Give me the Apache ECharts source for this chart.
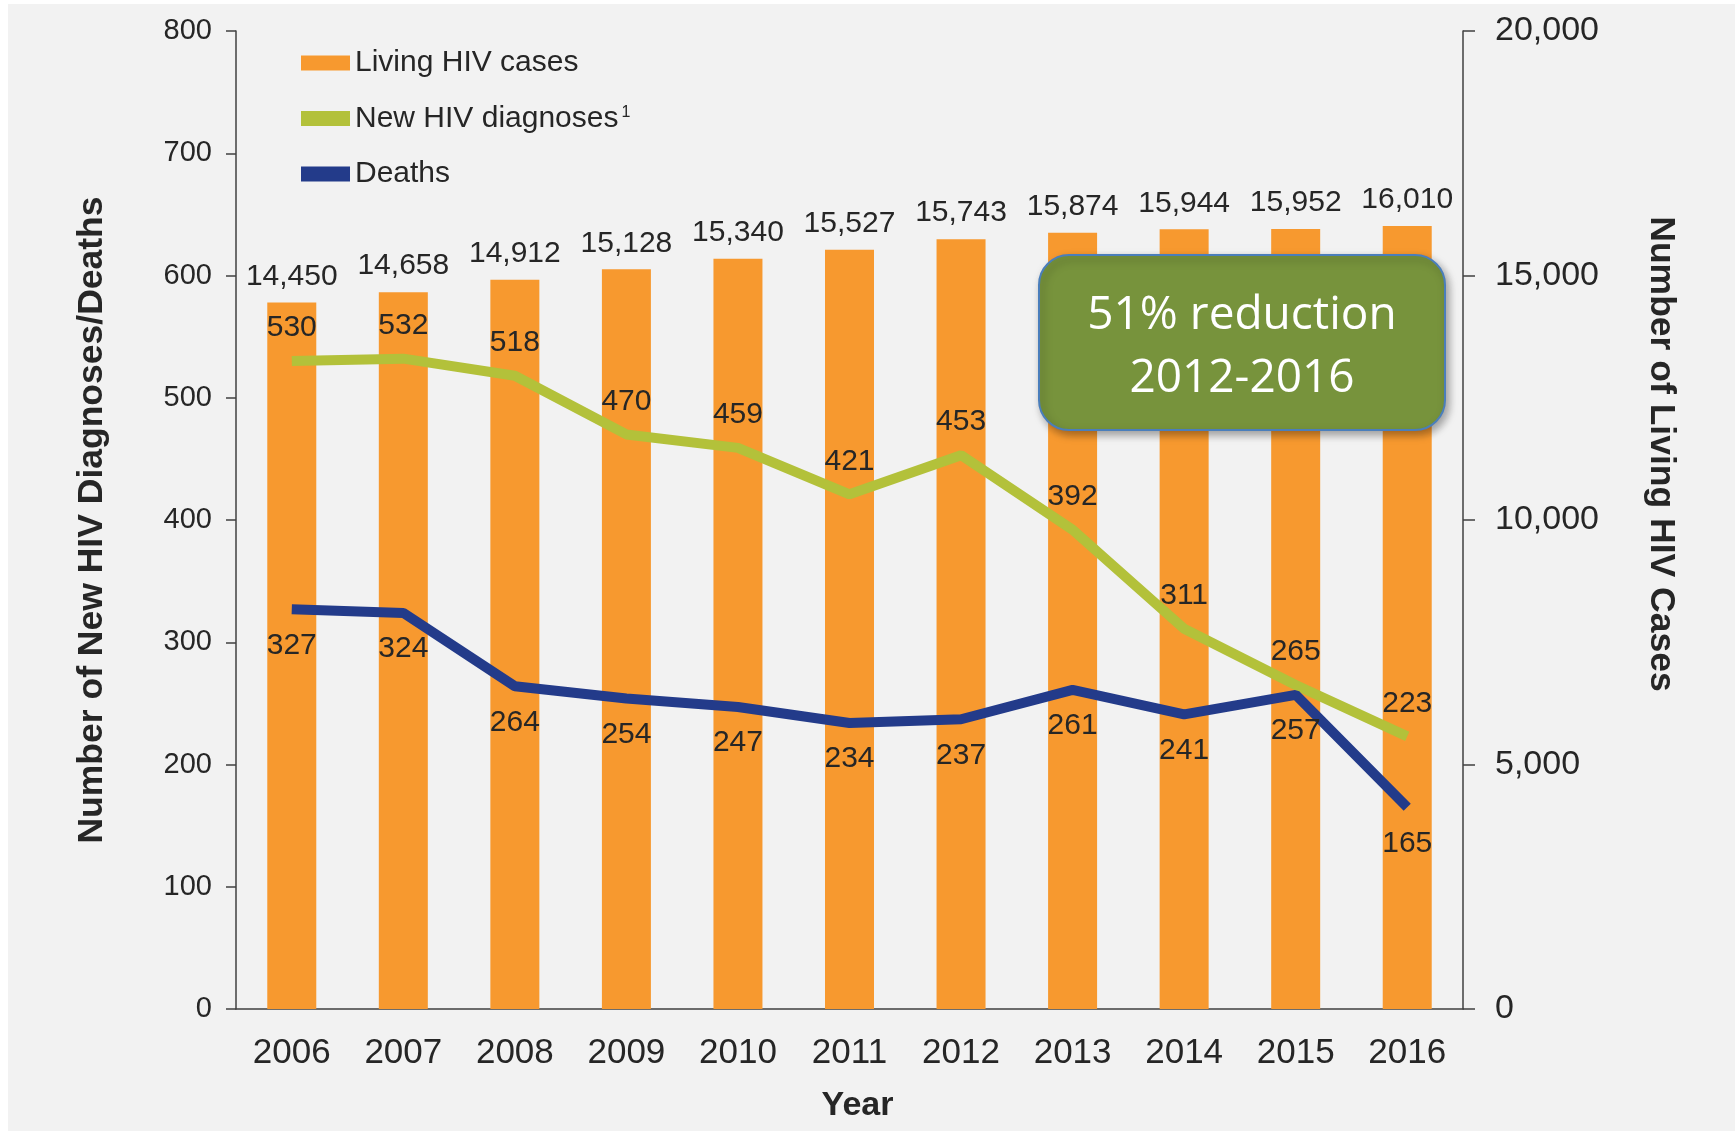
<!DOCTYPE html>
<html>
<head>
<meta charset="utf-8">
<script src="https://cdn.jsdelivr.net/npm/echarts@6/dist/echarts.min.js"></script>
<style>
  html, body { margin: 0; padding: 0; background: #ffffff; }
  #chart { position: absolute; left: 8px; top: 4px; width: 1727px; height: 1127px; background: #f2f2f2; }
</style>
</head>
<body>
<div id="chart"></div>
<script>
const years = ['2006', '2007', '2008', '2009', '2010', '2011', '2012', '2013', '2014', '2015', '2016'];
const livingCases = [14450, 14658, 14912, 15128, 15340, 15527, 15743, 15874, 15944, 15952, 16010];
const newDiagnoses = [530, 532, 518, 470, 459, 421, 453, 392, 311, 265, 223];
const deaths = [327, 324, 264, 254, 247, 234, 237, 261, 241, 257, 165];

const font = "'Liberation Sans', Arial, sans-serif";
const textColor = '#262626';
const axisColor = '#404040';

const chart = echarts.init(document.getElementById('chart'));

const fmt = v => v.toLocaleString('en-US');

chart.setOption({
  backgroundColor: 'transparent',
  textStyle: { fontFamily: font, color: textColor },
  animation: false,
  grid: { left: 228, right: 272, top: 27, bottom: 122 },
  legend: {
    orient: 'vertical',
    left: 288,
    top: 39,
    itemWidth: 49,
    itemHeight: 15,
    itemGap: 25.5,
    icon: 'rect',
    data: ['Living HIV cases', 'New HIV diagnoses', 'Deaths'],
    formatter: name => name === 'New HIV diagnoses' ? '{t|' + name + '}{sup|1}' : '{t|' + name + '}',
    textStyle: {
      fontFamily: font,
      fontSize: 30,
      color: textColor,
      rich: {
        t: { fontFamily: font, fontSize: 30, color: textColor, lineHeight: 32 },
        sup: { fontFamily: font, fontSize: 16, color: textColor, padding: [0, 0, 12, 3] }
      }
    }
  },
  xAxis: {
    type: 'category',
    data: years,
    name: 'Year',
    nameLocation: 'middle',
    nameGap: 80,
    nameTextStyle: { fontFamily: font, fontSize: 34, fontWeight: 'bold', color: textColor, padding: [0, 0, 0, 16] },
    axisLine: { lineStyle: { color: axisColor, width: 1.5 } },
    axisTick: { length: 12, lineStyle: { color: axisColor, width: 1.5 } },
    axisLabel: { fontFamily: font, fontSize: 35, color: textColor, margin: 27 }
  },
  yAxis: [
    {
      type: 'value',
      min: 0, max: 800, interval: 100,
      name: 'Number of New HIV Diagnoses/Deaths',
      nameLocation: 'middle',
      nameGap: 126,
      nameTextStyle: { fontFamily: font, fontSize: 35.5, fontWeight: 'bold', color: textColor },
      axisLine: { show: true, lineStyle: { color: axisColor, width: 1.5 } },
      axisTick: { show: true, length: 10, lineStyle: { color: axisColor, width: 1.5 } },
      axisLabel: { fontFamily: font, fontSize: 29, color: textColor, margin: 24 },
      splitLine: { show: false }
    },
    {
      type: 'value',
      min: 0, max: 20000, interval: 5000,
      position: 'right',
      name: 'Number of Living HIV Cases',
      nameLocation: 'middle',
      nameRotate: -90,
      nameGap: 180,
      // title sits above the axis middle in the original
      nameTextStyle: { fontFamily: font, fontSize: 35.5, fontWeight: 'bold', color: textColor, padding: [0, 132, 0, 0] },
      axisLine: { show: true, lineStyle: { color: axisColor, width: 1.5 } },
      axisTick: { show: true, length: 12, lineStyle: { color: axisColor, width: 1.5 } },
      axisLabel: { fontFamily: font, fontSize: 34, color: textColor, margin: 32, formatter: fmt },
      splitLine: { show: false }
    }
  ],
  series: [
    {
      name: 'Living HIV cases',
      type: 'bar',
      yAxisIndex: 1,
      data: livingCases,
      barWidth: 49,
      itemStyle: { color: '#f7992f' },
      label: {
        show: true, position: 'top', distance: 11,
        fontFamily: font, fontSize: 30, color: textColor,
        formatter: p => fmt(p.value)
      },
      z: 1
    },
    {
      name: 'New HIV diagnoses',
      type: 'line',
      yAxisIndex: 0,
      data: newDiagnoses,
      symbol: 'circle',
      symbolSize: 0.1,
      lineStyle: { color: '#b3c13a', width: 10 },
      itemStyle: { color: '#b3c13a' },
      label: { show: true, position: 'top', distance: 18, fontFamily: font, fontSize: 30, color: textColor },
      z: 3
    },
    {
      name: 'Deaths',
      type: 'line',
      yAxisIndex: 0,
      data: deaths,
      symbol: 'circle',
      symbolSize: 0.1,
      lineStyle: { color: '#233b8a', width: 10 },
      itemStyle: { color: '#233b8a' },
      label: { show: true, position: 'bottom', distance: 21, fontFamily: font, fontSize: 30, color: textColor },
      z: 4
    }
  ],
  // annotation box, on its own layers so it stays above the bars
  graphic: [
    {
      type: 'group',
      left: 1030,
      top: 250,
      children: [
        {
          type: 'rect',
          zlevel: 1,
          shape: { x: 0, y: 0, width: 406, height: 175, r: 30 },
          style: {
            fill: '#77933c',
            stroke: '#4a7ebb',
            lineWidth: 2,
            shadowBlur: 8,
            shadowOffsetX: 3,
            shadowOffsetY: 4,
            shadowColor: 'rgba(0,0,0,0.35)'
          }
        },
        {
          type: 'text',
          zlevel: 2,
          x: 203,
          y: 92,
          style: {
            text: '51% reduction\n2012-2016',
            fill: '#ffffff',
            fontFamily: "'Open Sans', 'Noto Sans', sans-serif",
            fontSize: 46,
            lineHeight: 63,
            align: 'center',
            verticalAlign: 'middle'
          }
        }
      ]
    }
  ]
});
</script>
</body>
</html>
